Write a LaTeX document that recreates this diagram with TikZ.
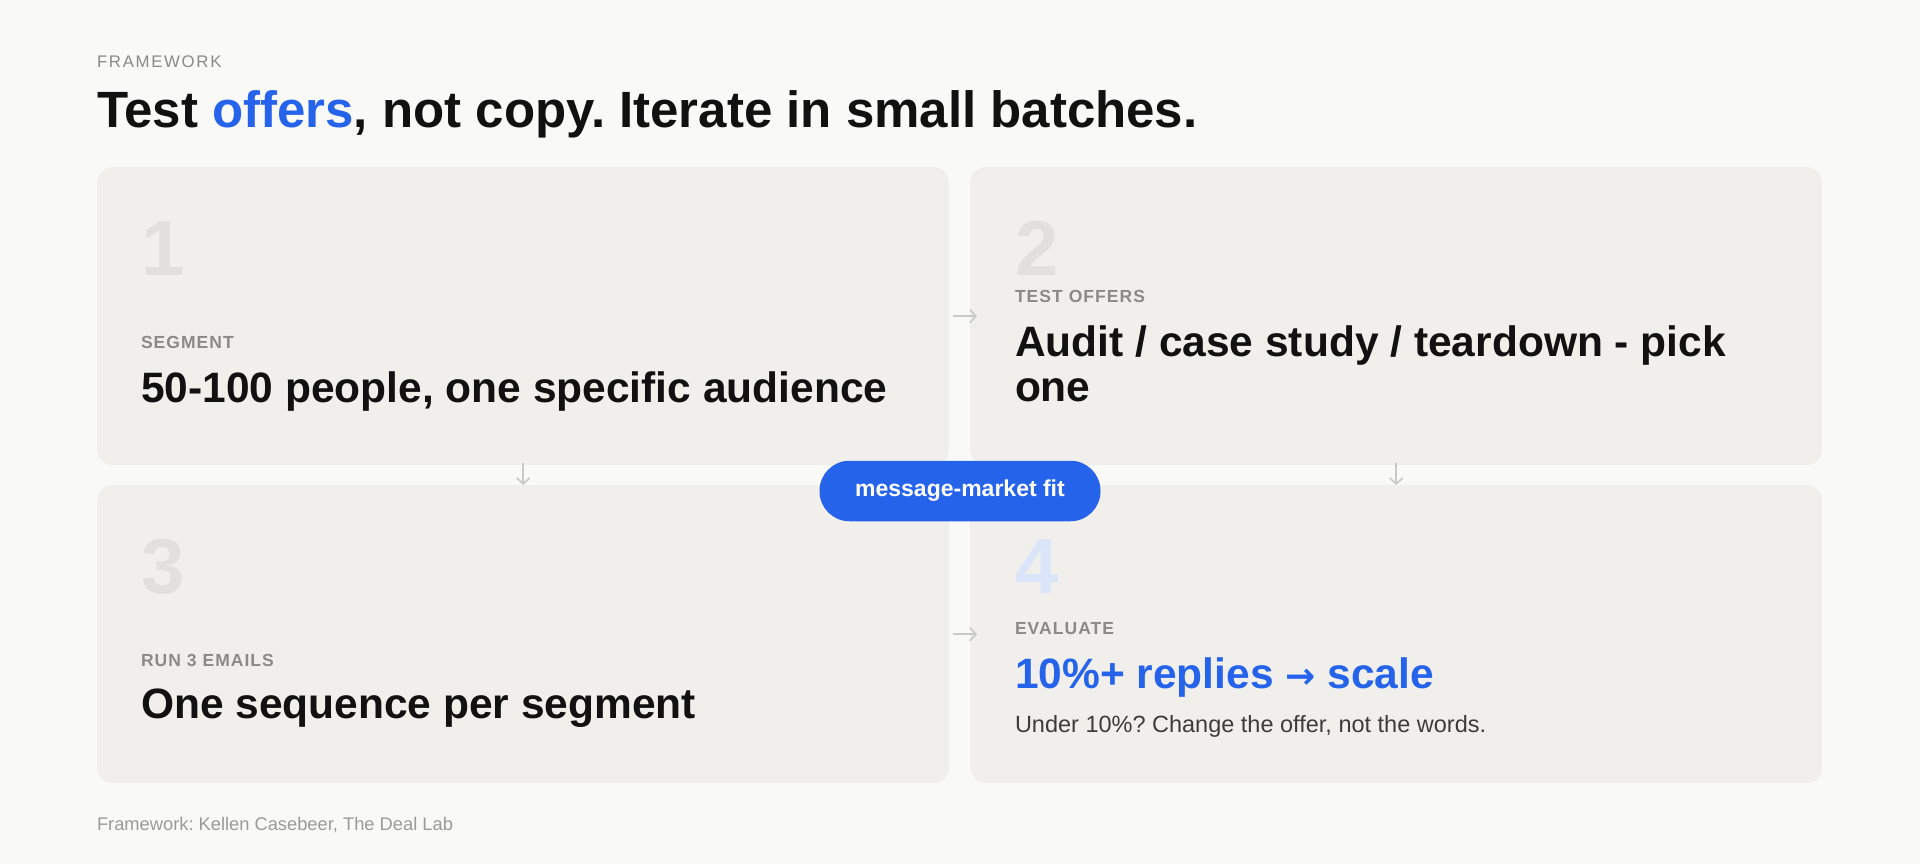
\documentclass[tikz,border=0pt]{standalone}
\usepackage{fontspec}
\setmainfont{Liberation Sans}
\newfontfamily\arrowfont{DejaVu Sans}
\usetikzlibrary{arrows.meta}
\definecolor{bgc}{HTML}{F9F9F7}
\definecolor{cardc}{HTML}{F0EFEB}
\definecolor{numc}{HTML}{E1E0DC}
\definecolor{numblue}{HTML}{DAE5F9}
\definecolor{labc}{HTML}{8A8A88}
\definecolor{inkc}{HTML}{111111}
\definecolor{bluec}{HTML}{2563EB}
\definecolor{arrc}{HTML}{C9C9C7}
\definecolor{footc}{HTML}{9A9A98}
\definecolor{subc}{HTML}{3C3C3C}
\frenchspacing
\tikzset{
  card/.style={fill=cardc, rounded corners=16pt, minimum width=852pt, minimum height=298pt, inner sep=0pt, anchor=north west},
  txt/.style={anchor=base west, inner sep=0pt, outer sep=0pt},
  bignum/.style={txt, text=numc, font=\bfseries\fontsize{78}{80}\selectfont},
  steplabel/.style={txt, text=labc, font=\bfseries\fontsize{17.5}{20}\selectfont\addfontfeatures{LetterSpace=6}},
  headline/.style={txt, text=inkc, font=\bfseries\fontsize{42.5}{45}\selectfont},
  conn/.style={draw=arrc, line width=1.6pt, -{Straight Barb[length=6pt,width=13pt,line width=1.6pt]}},
  pill/.style={fill=bluec, text=white, rounded corners=30pt, minimum width=281pt, minimum height=60.5pt, inner sep=0pt, font=\bfseries\fontsize{23}{26}\selectfont}
}
\begin{document}
\begin{tikzpicture}[x=1pt,y=-1pt]
\path[use as bounding box, fill=bgc] (0,0) rectangle (1920,864);

% header
\node[txt, text=labc, font=\fontsize{16.8}{19}\selectfont\addfontfeatures{LetterSpace=10}] (kicker) at (97,68) {FRAMEWORK};
\node[txt, text=inkc, font=\bfseries\fontsize{51}{56}\selectfont] (title) at (97,127.7) {Test \textcolor{bluec}{offers}, not copy. Iterate in small batches.};

% cards
\node[card] (b1) at (97,167) {};
\node[card] (b2) at (970,167) {};
\node[card] (b3) at (97,485) {};
\node[card] (b4) at (970,485) {};

% connectors
\draw[conn] ([xshift=4pt]b1.east) -- ([xshift=7pt]b2.west);
\draw[conn] ([xshift=4pt]b3.east) -- ([xshift=7pt]b4.west);
\draw[conn] ([yshift=2pt]b1.south) -- (b3.north);
\draw[conn] ([yshift=2pt]b2.south) -- (b4.north);

% card 1
\node[bignum] (n1) at (141,275) {1};
\node[steplabel] (l1) at (141,348.3) {SEGMENT};
\node[headline] (h1) at (141,402.7) {50-100 people, one specific audience};

% card 2
\node[bignum] (n2) at (1015,275) {2};
\node[steplabel] (l2) at (1015,302.7) {TEST OFFERS};
\node[headline] (h2) at (1015,356.7) {\parbox[t]{780pt}{\raggedright\fontsize{42.5}{45}\selectfont Audit / case study / teardown - pick\\one}};

% card 3
\node[bignum] (n3) at (141,593) {3};
\node[steplabel] (l3) at (141,666) {RUN 3 EMAILS};
\node[headline] (h3) at (141,718.3) {One sequence per segment};

% card 4
\node[bignum, text=numblue] (n4) at (1015,593) {4};
\node[steplabel] (l4) at (1015,634.3) {EVALUATE};
\node[headline, text=bluec] (h4) at (1015,688.3) {10\%+ replies {\arrowfont\bfseries\fontsize{36}{40}\selectfont →} scale};
\node[txt, text=subc, font=\fontsize{23.5}{26}\selectfont] (s4) at (1015,732.7) {Under 10\%? Change the offer, not the words.};

% pill
\node[pill] (fit) at (960,491) {message-market fit};

% footer
\node[txt, text=footc, font=\fontsize{18.3}{21}\selectfont] (foot) at (97,830.7) {Framework: Kellen Casebeer, The Deal Lab};
\end{tikzpicture}
\end{document}
